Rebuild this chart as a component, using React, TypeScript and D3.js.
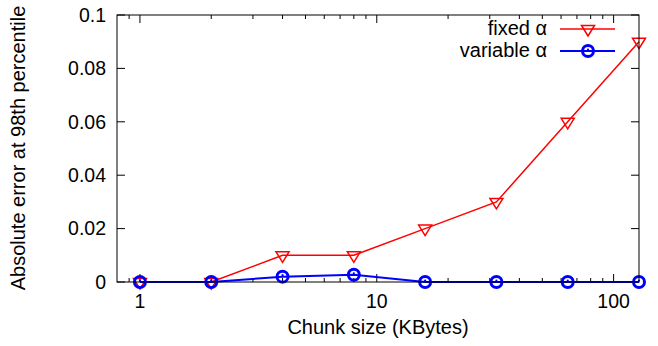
import React from "react";
import * as d3 from "d3";

const chunkSizes = [1, 2, 4, 8, 16, 32, 64, 128];
const fixedAlpha = [0, 0, 0.01, 0.01, 0.02, 0.03, 0.06, 0.09];
const variableAlpha = [0, 0, 0.002, 0.0027, 0, 0, 0, 0];
const yTicks = [0, 0.02, 0.04, 0.06, 0.08, 0.1];
const xMajorTicks = [1, 10, 100];
const xMinorTicks = [0.9, 2, 3, 4, 5, 6, 7, 8, 9, 20, 30, 40, 50, 60, 70, 80, 90];

const W = 658, H = 346;
const L = 117, R = 639, T = 15, B = 282;
const FONT = "'Liberation Sans', Arial, Helvetica, sans-serif";

export default function App() {
  const x = d3.scaleLog().domain([0.8, 128]).range([L, R]);
  const y = d3.scaleLinear().domain([0, 0.1]).range([B, T]);
  const line = d3.line<number>().x((_, i) => x(chunkSizes[i])).y((d) => y(d));

  const tri = (cx: number, cy: number) =>
    `M${cx - 6.5},${cy - 3.5}L${cx + 6.5},${cy - 3.5}L${cx},${cy + 7}Z`;

  const red = "#ff0000";
  const blue = "#0000ff";

  return (
    <svg width={W} height={H} style={{ position: "absolute", left: 0, top: 0, background: "#fff" }} fontFamily={FONT}>
      <rect x={0} y={0} width={W} height={H} fill="#fff" />
      {/* ticks */}
      <g stroke="#000" strokeWidth={1}>
        {yTicks.map((t) => (
          <g key={"y" + t}>
            <line x1={L} x2={L + 8} y1={y(t)} y2={y(t)} />
            <line x1={R} x2={R - 8} y1={y(t)} y2={y(t)} />
          </g>
        ))}
        {xMajorTicks.map((t) => (
          <g key={"xM" + t}>
            <line x1={x(t)} x2={x(t)} y1={B} y2={B - 8} />
            <line x1={x(t)} x2={x(t)} y1={T} y2={T + 8} />
          </g>
        ))}
        {xMinorTicks.map((t) => (
          <g key={"xm" + t}>
            <line x1={x(t)} x2={x(t)} y1={B} y2={B - 4} />
            <line x1={x(t)} x2={x(t)} y1={T} y2={T + 4} />
          </g>
        ))}
      </g>
      {/* tick labels */}
      <g fontSize={19.5} fill="#000">
        {yTicks.map((t) => (
          <text key={"yl" + t} x={106} y={y(t)} dy="0.35em" textAnchor="end">
            {d3.format("~g")(t)}
          </text>
        ))}
        {xMajorTicks.map((t) => (
          <text key={"xl" + t} x={x(t)} y={301} dy="0.35em" textAnchor="middle">
            {String(t)}
          </text>
        ))}
      </g>
      {/* titles */}
      <text x={378} y={334} fontSize={20} textAnchor="middle">Chunk size (KBytes)</text>
      <text transform={`translate(25,148) rotate(-90)`} fontSize={20} textAnchor="middle">
        Absolute error at 98th percentile
      </text>
      {/* fixed alpha series */}
      <path d={line(fixedAlpha) || ""} fill="none" stroke={red} strokeWidth={1.5} />
      {fixedAlpha.map((v, i) => (
        <path key={"f" + i} d={tri(x(chunkSizes[i]), y(v))} fill="none" stroke={red} strokeWidth={1.5} />
      ))}
      {/* variable alpha series */}
      <path d={line(variableAlpha) || ""} fill="none" stroke={blue} strokeWidth={2} />
      {variableAlpha.map((v, i) => (
        <g key={"v" + i}>
          <circle cx={x(chunkSizes[i])} cy={y(v)} r={5.5} fill="none" stroke={blue} strokeWidth={3} />
          <circle cx={x(chunkSizes[i])} cy={y(v) - 1.5} r={1.1} fill={blue} />
        </g>
      ))}
      {/* legend */}
      <g fontSize={20}>
        <text x={547} y={28} dy="0.35em" textAnchor="end">fixed α</text>
        <line x1={560} x2={615} y1={29} y2={29} stroke={red} strokeWidth={1.5} />
        <path d={tri(588, 29)} fill="none" stroke={red} strokeWidth={1.5} />
        <text x={547} y={50} dy="0.35em" textAnchor="end">variable α</text>
        <line x1={560} x2={615} y1={51} y2={51} stroke={blue} strokeWidth={2} />
        <circle cx={588} cy={51} r={5.5} fill="none" stroke={blue} strokeWidth={3} />
        <circle cx={588} cy={49.5} r={1.1} fill={blue} />
      </g>
      {/* border */}
      <rect x={L} y={T} width={R - L} height={B - T} fill="none" stroke="#000" strokeWidth={1} />
    </svg>
  );
}
